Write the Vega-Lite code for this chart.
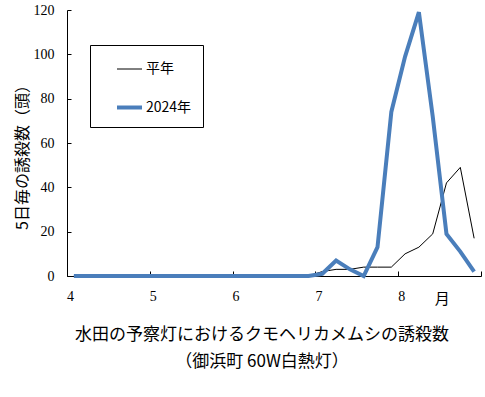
{
  "$schema": "https://vega.github.io/schema/vega-lite/v6.json",
  "width": 414,
  "height": 266,
  "autosize": "none",
  "padding": {"left": 67, "top": 10, "right": 4, "bottom": 121},
  "background": "white",
  "config": {"view": {"stroke": null}},
  "title": {
    "text": ["水田の予察灯におけるクモヘリカメムシの誘殺数", "（御浜町 60W白熱灯）"],
    "orient": "bottom",
    "anchor": "middle",
    "font": "Noto Sans CJK JP",
    "fontSize": 17,
    "fontWeight": "normal",
    "color": "black",
    "lineHeight": 27,
    "offset": 21,
    "dx": -12
  },
  "data": {
    "values": [
      {"series": "平年", "m": 4.083, "v": 0}, {"series": "平年", "m": 4.25, "v": 0}, {"series": "平年", "m": 4.417, "v": 0},
      {"series": "平年", "m": 4.583, "v": 0}, {"series": "平年", "m": 4.75, "v": 0}, {"series": "平年", "m": 4.917, "v": 0},
      {"series": "平年", "m": 5.083, "v": 0}, {"series": "平年", "m": 5.25, "v": 0}, {"series": "平年", "m": 5.417, "v": 0},
      {"series": "平年", "m": 5.583, "v": 0}, {"series": "平年", "m": 5.75, "v": 0}, {"series": "平年", "m": 5.917, "v": 0},
      {"series": "平年", "m": 6.083, "v": 0}, {"series": "平年", "m": 6.25, "v": 0}, {"series": "平年", "m": 6.417, "v": 0},
      {"series": "平年", "m": 6.583, "v": 0}, {"series": "平年", "m": 6.75, "v": 0}, {"series": "平年", "m": 6.917, "v": 0},
      {"series": "平年", "m": 7.083, "v": 2}, {"series": "平年", "m": 7.25, "v": 3}, {"series": "平年", "m": 7.417, "v": 3},
      {"series": "平年", "m": 7.583, "v": 4}, {"series": "平年", "m": 7.75, "v": 4}, {"series": "平年", "m": 7.917, "v": 4},
      {"series": "平年", "m": 8.083, "v": 10}, {"series": "平年", "m": 8.25, "v": 13}, {"series": "平年", "m": 8.417, "v": 19},
      {"series": "平年", "m": 8.583, "v": 42}, {"series": "平年", "m": 8.75, "v": 49}, {"series": "平年", "m": 8.917, "v": 17},
      {"series": "2024年", "m": 4.083, "v": 0}, {"series": "2024年", "m": 4.25, "v": 0}, {"series": "2024年", "m": 4.417, "v": 0},
      {"series": "2024年", "m": 4.583, "v": 0}, {"series": "2024年", "m": 4.75, "v": 0}, {"series": "2024年", "m": 4.917, "v": 0},
      {"series": "2024年", "m": 5.083, "v": 0}, {"series": "2024年", "m": 5.25, "v": 0}, {"series": "2024年", "m": 5.417, "v": 0},
      {"series": "2024年", "m": 5.583, "v": 0}, {"series": "2024年", "m": 5.75, "v": 0}, {"series": "2024年", "m": 5.917, "v": 0},
      {"series": "2024年", "m": 6.083, "v": 0}, {"series": "2024年", "m": 6.25, "v": 0}, {"series": "2024年", "m": 6.417, "v": 0},
      {"series": "2024年", "m": 6.583, "v": 0}, {"series": "2024年", "m": 6.75, "v": 0}, {"series": "2024年", "m": 6.917, "v": 0},
      {"series": "2024年", "m": 7.083, "v": 1}, {"series": "2024年", "m": 7.25, "v": 7}, {"series": "2024年", "m": 7.417, "v": 3},
      {"series": "2024年", "m": 7.583, "v": 0}, {"series": "2024年", "m": 7.75, "v": 13}, {"series": "2024年", "m": 7.917, "v": 74},
      {"series": "2024年", "m": 8.083, "v": 99}, {"series": "2024年", "m": 8.25, "v": 119}, {"series": "2024年", "m": 8.417, "v": 72},
      {"series": "2024年", "m": 8.583, "v": 19}, {"series": "2024年", "m": 8.75, "v": 11}, {"series": "2024年", "m": 8.917, "v": 2}
    ]
  },
  "encoding": {
    "x": {
      "field": "m", "type": "quantitative",
      "scale": {"domain": [4, 9], "nice": false, "zero": false},
      "axis": {
        "title": null,
        "grid": false,
        "values": [4, 5, 6, 7, 8, 8.49, 9],
        "labelExpr": "datum.value == 9 ? '' : (datum.value > 8.1 ? '月' : datum.label)",
        "domainColor": "black",
        "tickColor": "black",
        "tickSize": -5,
        "tickOpacity": {"condition": {"test": "datum.value > 8.1 && datum.value < 8.9", "value": 0}, "value": 1},
        "labelFont": {"condition": {"test": "datum.value > 8.1 && datum.value < 8.9", "value": "Noto Sans CJK JP"}, "value": "Liberation Sans Narrow"},
        "labelFontSize": {"condition": {"test": "datum.value > 8.1 && datum.value < 8.9", "value": 15}, "value": 14},
        "labelPadding": {"condition": {"test": "datum.value > 8.1 && datum.value < 8.9", "value": 20}, "value": 18},
        "labelColor": "black",
        "labelOffset": 3,
        "labelFlush": false,
        "labelOverlap": false
      }
    },
    "y": {
      "field": "v", "type": "quantitative",
      "scale": {"domain": [0, 120], "nice": false},
      "axis": {
        "title": "5日毎の誘殺数（頭）",
        "titleFont": "Noto Sans CJK JP",
        "titleFontSize": 16,
        "titleFontWeight": "normal",
        "titleColor": "black",
        "titleX": -45,
        "titleY": 143,
        "titleBaseline": "middle",
        "titleAlign": "center",
        "grid": false,
        "values": [0, 20, 40, 60, 80, 100, 120],
        "domainColor": "black",
        "tickColor": "black",
        "tickSize": -4,
        "labelFont": "Liberation Sans Narrow",
        "labelFontSize": 14,
        "labelColor": "black",
        "labelPadding": 17
      }
    },
    "color": {
      "field": "series", "type": "nominal",
      "scale": {"domain": ["平年", "2024年"], "range": ["black", "#4a7ebb"]},
      "legend": {
        "title": null,
        "orient": "none",
        "legendX": 23,
        "legendY": 35,
        "strokeColor": "black",
        "padding": 11,
        "symbolType": "stroke",
        "symbolSize": 625,
        "symbolOffset": 14,
        "rowPadding": 17,
        "labelOffset": 2,
        "labelFont": "Noto Sans CJK JP",
        "labelFontSize": 14,
        "labelColor": "black"
      }
    },
    "strokeWidth": {
      "field": "series", "type": "nominal",
      "scale": {"domain": ["平年", "2024年"], "range": [1, 4]},
      "legend": null
    }
  },
  "layer": [
    {"transform": [{"filter": "datum.series == '平年'"}], "mark": {"type": "line"}},
    {"transform": [{"filter": "datum.series == '2024年'"}], "mark": {"type": "line"}}
  ]
}
